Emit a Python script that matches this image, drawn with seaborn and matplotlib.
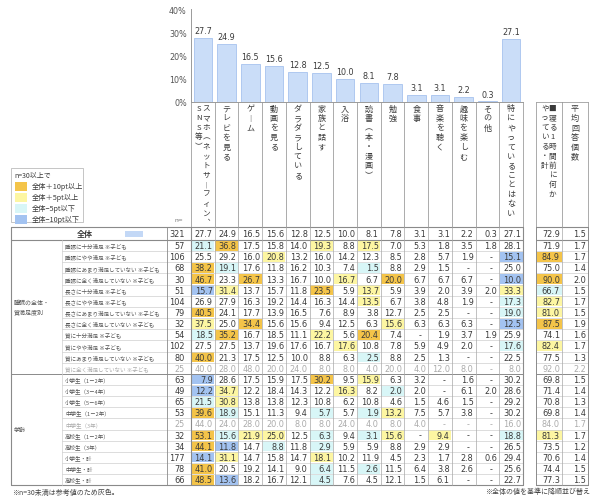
import matplotlib
matplotlib.use("Agg")
import matplotlib.pyplot as plt
import matplotlib.patches as mpatches
import seaborn as sns
import numpy as np
import pandas as pd

# ---------------- data ----------------
item_labels = ["スマホ（ネットサーフィン、SNS等）", "テレビを見る", "ゲーム", "動画を見る",
               "ダラダラしている", "家族と話す", "入浴", "読書（本・漫画）", "勉強", "食事",
               "音楽を聴く", "趣味を楽しむ", "その他", "特にやっていることはない"]
extra_labels = ["■寝る1時間前に何かやっている・計", "平均回答個数"]
header_breaks = {"スマホ（ネットサーフィン、SNS等）": 13, "■寝る1時間前に何かやっている・計": 10}

overall_n = 321
overall_pct = [27.7, 24.9, 16.5, 15.6, 12.8, 12.5, 10.0, 8.1, 7.8, 3.1, 3.1, 2.2, 0.3, 27.1]
overall_extra = [72.9, 1.5]

group_names = ["睡眠の全体・\n質満足度別", "学齢"]
row_labels = ["睡眠に十分満足 ※子ども", "睡眠にやや満足 ※子ども", "睡眠にあまり満足していない ※子ども",
              "睡眠に全く満足していない ※子ども", "長さに十分満足 ※子ども", "長さにやや満足 ※子ども",
              "長さにあまり満足していない ※子ども", "長さに全く満足していない ※子ども",
              "質に十分満足 ※子ども", "質にやや満足 ※子ども", "質にあまり満足していない ※子ども",
              "質に全く満足していない ※子ども",
              "小学生（1－2年）", "小学生（3－4年）", "小学生（5－6年）", "中学生（1－2年）",
              "中学生（3年）", "高校生（1－2年）", "高校生（3年）", "小学生・計", "中学生・計", "高校生・計"]
row_group = [0] * 12 + [1] * 10
row_n = [57, 106, 68, 30, 51, 104, 79, 32, 54, 102, 80, 25,
         63, 49, 65, 53, 25, 32, 34, 177, 78, 66]
N = None
row_pct = [
    [21.1, 36.8, 17.5, 15.8, 14.0, 19.3, 8.8, 17.5, 7.0, 5.3, 1.8, 3.5, 1.8, 28.1],
    [25.5, 29.2, 16.0, 20.8, 13.2, 16.0, 14.2, 12.3, 8.5, 2.8, 5.7, 1.9, N, 15.1],
    [38.2, 19.1, 17.6, 11.8, 16.2, 10.3, 7.4, 1.5, 8.8, 2.9, 1.5, N, N, 25.0],
    [46.7, 23.3, 26.7, 13.3, 16.7, 10.0, 16.7, 6.7, 20.0, 6.7, 6.7, 6.7, N, 10.0],
    [15.7, 31.4, 13.7, 15.7, 11.8, 23.5, 5.9, 13.7, 5.9, 3.9, 2.0, 3.9, 2.0, 33.3],
    [26.9, 27.9, 16.3, 19.2, 14.4, 16.3, 14.4, 13.5, 6.7, 3.8, 4.8, 1.9, N, 17.3],
    [40.5, 24.1, 17.7, 13.9, 16.5, 7.6, 8.9, 3.8, 12.7, 2.5, 2.5, N, N, 19.0],
    [37.5, 25.0, 34.4, 15.6, 15.6, 9.4, 12.5, 6.3, 15.6, 6.3, 6.3, 6.3, N, 12.5],
    [18.5, 35.2, 16.7, 18.5, 11.1, 22.2, 5.6, 20.4, 7.4, N, 1.9, 3.7, 1.9, 25.9],
    [27.5, 27.5, 13.7, 19.6, 17.6, 16.7, 17.6, 10.8, 7.8, 5.9, 4.9, 2.0, N, 17.6],
    [40.0, 21.3, 17.5, 12.5, 10.0, 8.8, 6.3, 2.5, 8.8, 2.5, 1.3, N, N, 22.5],
    [40.0, 28.0, 48.0, 20.0, 24.0, 8.0, 8.0, 4.0, 20.0, 4.0, 12.0, 8.0, N, 8.0],
    [7.9, 28.6, 17.5, 15.9, 17.5, 30.2, 9.5, 15.9, 6.3, 3.2, N, 1.6, N, 30.2],
    [12.2, 34.7, 12.2, 18.4, 14.3, 12.2, 16.3, 8.2, 2.0, 2.0, N, 6.1, 2.0, 28.6],
    [21.5, 30.8, 13.8, 13.8, 12.3, 10.8, 6.2, 10.8, 4.6, 1.5, 4.6, 1.5, N, 29.2],
    [39.6, 18.9, 15.1, 11.3, 9.4, 5.7, 5.7, 1.9, 13.2, 7.5, 5.7, 3.8, N, 30.2],
    [44.0, 24.0, 28.0, 20.0, 8.0, 8.0, 24.0, 4.0, 8.0, 4.0, N, N, N, 16.0],
    [53.1, 15.6, 21.9, 25.0, 12.5, 6.3, 9.4, 3.1, 15.6, N, 9.4, N, N, 18.8],
    [44.1, 11.8, 14.7, 8.8, 11.8, 2.9, 5.9, 5.9, 8.8, 2.9, 2.9, N, N, 26.5],
    [14.1, 31.1, 14.7, 15.8, 14.7, 18.1, 10.2, 11.9, 4.5, 2.3, 1.7, 2.8, 0.6, 29.4],
    [41.0, 20.5, 19.2, 14.1, 9.0, 6.4, 11.5, 2.6, 11.5, 6.4, 3.8, 2.6, N, 25.6],
    [48.5, 13.6, 18.2, 16.7, 12.1, 4.5, 7.6, 4.5, 12.1, 1.5, 6.1, N, N, 22.7],
]
row_any = [71.9, 84.9, 75.0, 90.0, 66.7, 82.7, 81.0, 87.5, 74.1, 82.4, 77.5, 92.0,
           69.8, 71.4, 70.8, 69.8, 84.0, 81.3, 73.5, 70.6, 74.4, 77.3]
row_avg = [1.7, 1.7, 1.4, 2.0, 1.5, 1.7, 1.5, 1.9, 1.6, 1.7, 1.3, 2.2,
           1.5, 1.4, 1.3, 1.4, 1.7, 1.7, 1.2, 1.4, 1.5, 1.5]

legend_title = "n=30以上で"
legend_labels = ["全体＋10pt以上", "全体＋5pt以上", "全体−5pt以下", "全体−10pt以下"]
note_left = "※n=30未満は参考値のため灰色。"
note_right = "※全体の値を基準に降順並び替え"

# ---------------- style ----------------
C_ORANGE, C_YELLOW, C_CYAN, C_BLUE = "#F4C449", "#FDF6A2", "#D8F6F7", "#A3C3F1"
legend_colors = [C_ORANGE, C_YELLOW, C_CYAN, C_BLUE]
TXT = "#3a3a3a"
GRAYTXT = "#ababab"
LINE_L = "#cfcfcf"
LINE_D = "#8a8a8a"

sns.set_theme(style="white")
plt.rcParams["font.family"] = ["Noto Sans CJK JP", "DejaVu Sans"]
NUMFONT = ["DejaVu Sans", "Noto Sans CJK JP"]

W, H = 599, 502
fig = plt.figure(figsize=(W / 100, H / 100), dpi=100)
tab = fig.add_axes([0, 0, 1, 1])
tab.set_xlim(0, W)
tab.set_ylim(H, 0)
tab.axis("off")

# layout
X0, X_GRP, X_LBL, X_N = 11, 62, 167, 191
NC = len(item_labels)
X_DEND = 523
CW = (X_DEND - X_N) / NC
X_EX = 536
EW = 26
col_left = [X_N + i * CW for i in range(NC)] + [X_EX + i * EW for i in range(len(extra_labels))]
col_w = [CW] * NC + [EW] * len(extra_labels)
Y_HTOP, Y_TTOP, Y_OEND = 103, 228, 241
RH = 11.15
NR = len(row_labels)
row_top = [Y_OEND + i * RH for i in range(NR)]
Y_TEND = Y_OEND + NR * RH

# ---------------- bar chart (seaborn) ----------------
ax = fig.add_axes([X_N / W, 1 - Y_HTOP / H, (X_DEND - X_N) / W, (Y_HTOP - 10) / H])
ax.patch.set_alpha(0)
df_bar = pd.DataFrame({"item": item_labels, "pct": overall_pct})
sns.barplot(data=df_bar, x="item", y="pct", order=item_labels, ax=ax,
            color="#CADDF8", edgecolor="#A7C3EE", linewidth=0.6, width=0.78, saturation=1)
for c in ax.containers:
    ax.bar_label(c, fmt="%.1f", padding=2, fontsize=5.8, color=TXT, family=NUMFONT)
ax.set_xlim(-0.5, NC - 0.5)
ax.set_ylim(0, 40)
ax.set_yticks([0, 10, 20, 30, 40])
ax.set_yticklabels([f"{v}%" for v in [0, 10, 20, 30, 40]], fontsize=5.8, color="#555555", family=NUMFONT)
ax.set_xticks([])
ax.set_xlabel("")
ax.set_ylabel("")
ax.tick_params(axis="y", length=0, pad=3)
for s in ["top", "right"]:
    ax.spines[s].set_visible(False)
for s in ["left", "bottom"]:
    ax.spines[s].set_color("#9a9a9a")
    ax.spines[s].set_linewidth(0.7)

# ---------------- headers (vertical text) ----------------
vmap = {"（": "︵", "）": "︶", "ー": "︱", "、": "︑", "－": "︱"}
def vertical(ax_, text, cx, ytop, step=9.5, fs=5.8):
    for i, ch in enumerate(text):
        ax_.text(cx, ytop + i * step, vmap.get(ch, ch), ha="center", va="center",
                 fontsize=fs, color=TXT)

all_heads = item_labels + extra_labels
for j, lab in enumerate(all_heads):
    cx = col_left[j] + col_w[j] / 2
    if lab in header_breaks:
        k = header_breaks[lab]
        vertical(tab, lab[:k], cx + 3.5, 109, fs=5.5)
        vertical(tab, lab[k:], cx - 4.0, 109, fs=5.5)
    else:
        vertical(tab, lab, cx, 109)

# header vertical lines
for xl in [X_N + i * CW for i in range(NC + 1)]:
    tab.plot([xl, xl], [Y_HTOP, Y_TTOP], color=LINE_D, lw=0.5)
for xl in [X_EX + i * EW for i in range(len(extra_labels) + 1)]:
    tab.plot([xl, xl], [Y_HTOP, Y_TTOP], color=LINE_D, lw=0.5)
tab.plot([X_EX, X_EX + 2 * EW], [Y_HTOP, Y_HTOP], color=LINE_D, lw=0.5)
tab.text(X_N - 12, Y_TTOP - 7, "n=", fontsize=4.3, color="#777777", ha="center", va="center", family=NUMFONT)

# ---------------- legend ----------------
tab.add_patch(mpatches.Rectangle((X0, 169), 72, 54, fill=False, ec="#bbbbbb", lw=0.6))
tab.text(X0 + 3, 176, legend_title, fontsize=5.0, color=TXT, va="center", ha="left")
for i, (lc, lt) in enumerate(zip(legend_colors, legend_labels)):
    yy = 187 + i * 11
    tab.add_patch(mpatches.Rectangle((X0 + 4, yy - 4.5), 12, 9, color=lc, lw=0))
    tab.text(X0 + 21, yy, lt, fontsize=5.2, color=TXT, va="center", ha="left")

# ---------------- table body ----------------
def cell_color(v, base, n):
    if v is None or n < 30:
        return None
    d = round(v - base, 1)
    if d >= 10:
        return C_ORANGE
    if d >= 5:
        return C_YELLOW
    if d <= -10:
        return C_BLUE
    if d <= -5:
        return C_CYAN
    return None

def put_num(j, yc, v, color, fmt="%.1f"):
    s = "-" if v is None else fmt % v
    xr = col_left[j] + col_w[j] - 2
    if v is None:
        tab.text(col_left[j] + col_w[j] / 2 + 4, yc, s, fontsize=5.8, color=color, ha="center",
                 va="center", family=NUMFONT)
    else:
        tab.text(xr, yc, s, fontsize=5.9, color=color, ha="right", va="center", family=NUMFONT)

# overall row
yc = (Y_TTOP + Y_OEND) / 2
tab.text(85, yc, "全体", fontsize=5.8, color=TXT, ha="center", va="center", weight="bold")
tab.add_patch(mpatches.Rectangle((125, yc - 3), 18, 6, color="#C3D8F6", lw=0))
tab.text(X_N - 6, yc, str(overall_n), fontsize=5.9, color=TXT, ha="right", va="center", family=NUMFONT)
for j, v in enumerate(overall_pct + overall_extra):
    put_num(j, yc, v, TXT)

# rows
base_vals = overall_pct + [overall_extra[0]]
for i in range(NR):
    yt = row_top[i]
    yc = yt + RH / 2
    n = row_n[i]
    tc = GRAYTXT if n < 30 else TXT
    vals = row_pct[i] + [row_any[i], row_avg[i]]
    for j, v in enumerate(vals):
        if j < len(base_vals):
            cc = cell_color(v, base_vals[j], n)
            if cc:
                tab.add_patch(mpatches.Rectangle((col_left[j] + 0.5, yt + 0.6), col_w[j] - 1, RH - 1.2,
                                                 color=cc, lw=0, zorder=0))
        put_num(j, yc, v, tc)
    tab.text(X_GRP + 3, yc, row_labels[i], fontsize=4.0, color="#555555" if n >= 30 else GRAYTXT,
             ha="left", va="center")
    tab.text(X_N - 6, yc, str(n), fontsize=5.9, color=tc, ha="right", va="center", family=NUMFONT)

# group labels
for g, gname in enumerate(group_names):
    idx = [i for i in range(NR) if row_group[i] == g]
    ymid = (row_top[idx[0]] + row_top[idx[-1]] + RH) / 2
    tab.text(X0 + 3, ymid, gname, fontsize=4.3, color="#555555", ha="left", va="center", linespacing=1.7)

# horizontal lines
for i in range(1, NR):
    if row_group[i] == row_group[i - 1]:
        tab.plot([X_GRP, X_DEND], [row_top[i]] * 2, color=LINE_L, lw=0.5)
        tab.plot([X_EX, X_EX + 2 * EW], [row_top[i]] * 2, color=LINE_L, lw=0.5)
    else:
        tab.plot([X0, X_DEND], [row_top[i]] * 2, color=LINE_D, lw=0.7)
        tab.plot([X_EX, X_EX + 2 * EW], [row_top[i]] * 2, color=LINE_D, lw=0.7)
for yl in [Y_TTOP, Y_OEND, Y_TEND]:
    tab.plot([X0, X_DEND], [yl, yl], color=LINE_D, lw=0.8)
    tab.plot([X_EX, X_EX + 2 * EW], [yl, yl], color=LINE_D, lw=0.8)

# vertical lines
tab.plot([X0, X0], [Y_TTOP, Y_TEND], color=LINE_D, lw=0.8)
tab.plot([X_GRP, X_GRP], [Y_OEND, Y_TEND], color=LINE_L, lw=0.5)
tab.plot([X_LBL, X_LBL], [Y_TTOP, Y_TEND], color=LINE_D, lw=0.6)
for k in range(NC + 1):
    xl = X_N + k * CW
    tab.plot([xl, xl], [Y_TTOP, Y_TEND], color=LINE_D if k in (0, NC) else "#a8a8a8",
             lw=0.8 if k in (0, NC) else 0.5)
for k in range(len(extra_labels) + 1):
    xl = X_EX + k * EW
    tab.plot([xl, xl], [Y_TTOP, Y_TEND], color=LINE_D if k != 1 else "#a8a8a8", lw=0.7 if k != 1 else 0.5)

# notes
tab.text(X0 + 1, 492.5, note_left, fontsize=5.0, color="#444444", ha="left", va="center")
tab.text(590, 492.5, note_right, fontsize=5.0, color="#444444", ha="right", va="center")

fig.savefig("out.png", dpi=100)
